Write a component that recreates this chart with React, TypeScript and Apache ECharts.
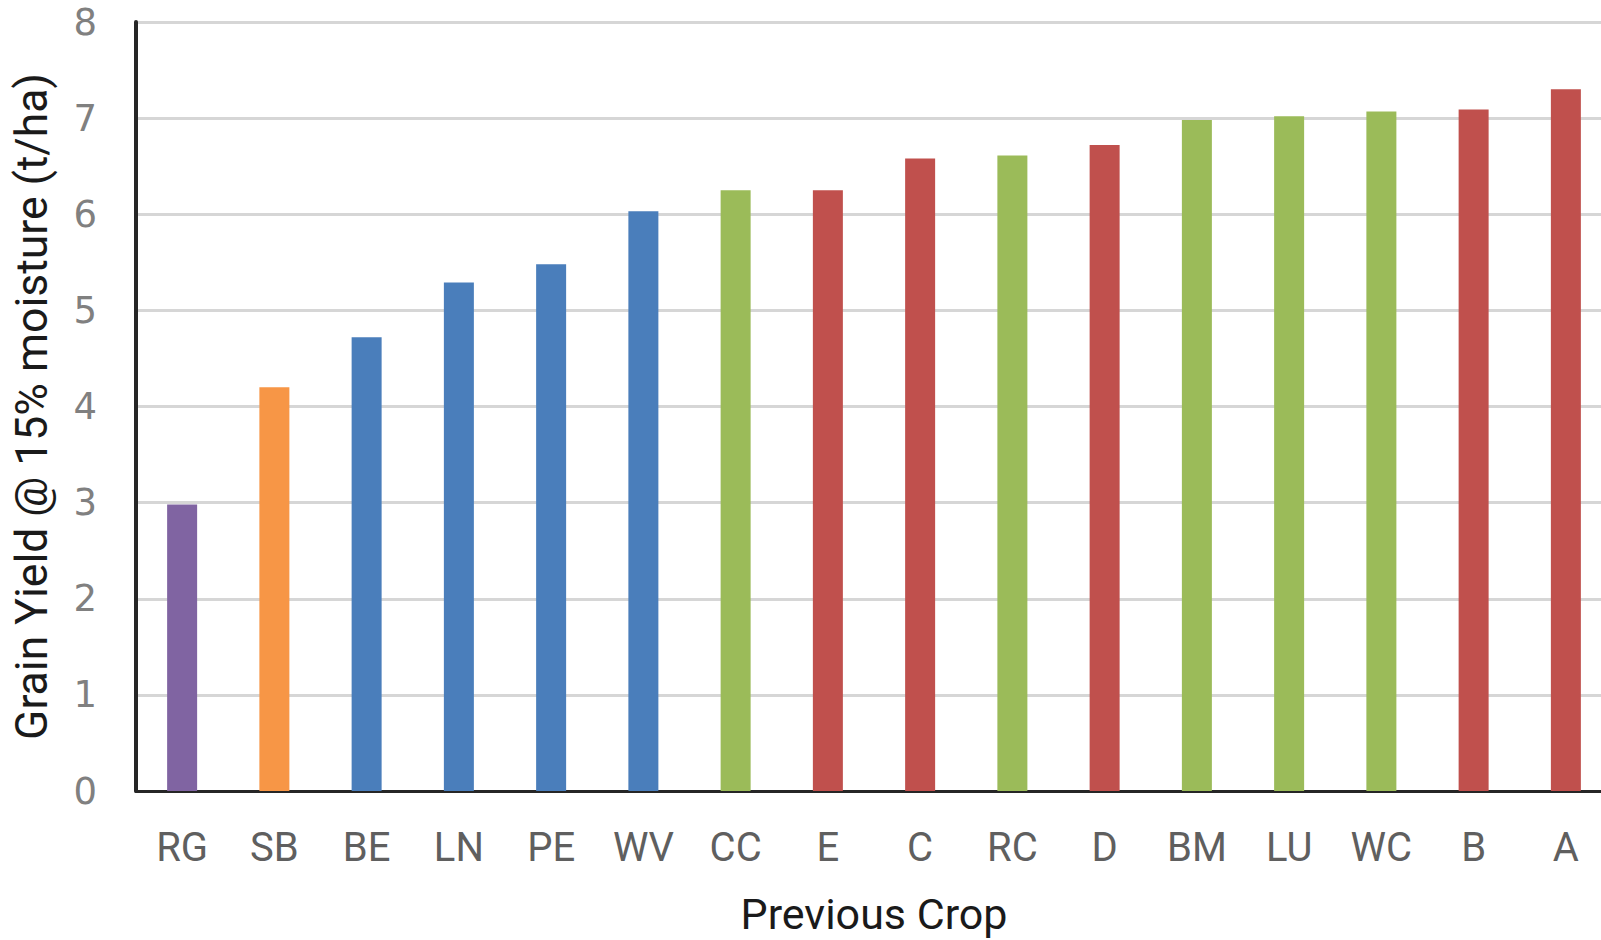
import React, { useEffect, useRef } from "react";
import * as echarts from "echarts";

const categories = ["RG", "SB", "BE", "LN", "PE", "WV", "CC", "E", "C", "RC", "D", "BM", "LU", "WC", "B", "A"];
const yieldValues = [2.98, 4.2, 4.72, 5.29, 5.48, 6.03, 6.25, 6.25, 6.58, 6.61, 6.72, 6.98, 7.02, 7.07, 7.09, 7.3];
const groups = ["grass", "cereal", "legume", "legume", "legume", "legume", "mix", "tree", "tree", "mix", "tree", "mix", "mix", "mix", "tree", "tree"];
const groupColors: Record<string, string> = {
  grass: "#8064A2",
  cereal: "#F79646",
  legume: "#4A7EBB",
  mix: "#9BBB59",
  tree: "#C0504D",
};
const yTicks = { min: 0, max: 8, interval: 1 };

export default function App() {
  const ref = useRef<HTMLDivElement>(null);
  useEffect(() => {
    if (!ref.current) return;
    const chart = echarts.init(ref.current, null, { renderer: "svg" });
    chart.setOption({
      animation: false,
      backgroundColor: "#ffffff",
      grid: { left: 136, right: 0, top: 22, bottom: 146 },
      xAxis: {
        type: "category",
        data: categories,
        name: "Previous Crop",
        nameLocation: "middle",
        nameGap: 101,
        nameTextStyle: { fontFamily: "Roboto", fontSize: 43, color: "#1a1a1a" },
        axisLine: { show: true, lineStyle: { color: "#262626", width: 3 } },
        axisTick: { show: false },
        axisLabel: { fontFamily: "Roboto", fontSize: 40, color: "#5f5f5f", margin: 36 },
        splitLine: { show: false },
      },
      yAxis: {
        type: "value",
        min: yTicks.min,
        max: yTicks.max,
        interval: yTicks.interval,
        name: "Grain Yield @ 15% moisture (t/ha)",
        nameLocation: "middle",
        nameGap: 82,
        nameTextStyle: { fontFamily: "Roboto", fontSize: 44.5, color: "#1a1a1a" },
        axisLine: { show: true, lineStyle: { color: "#262626", width: 4 } },
        axisTick: { show: false },
        axisLabel: { fontFamily: "DejaVu Sans", fontSize: 37, color: "#808080", margin: 39 },
        splitLine: { show: true, lineStyle: { color: "#d6d6d6", width: 3 } },
      },
      series: [
        {
          type: "bar",
          barWidth: 30,
          data: yieldValues.map((v, i) => ({ value: v, itemStyle: { color: groupColors[groups[i]] } })),
        },
      ],
    });
    return () => chart.dispose();
  }, []);
  return <div ref={ref} style={{ position: "fixed", left: 0, top: 0, width: 1612, height: 940 }} />;
}
